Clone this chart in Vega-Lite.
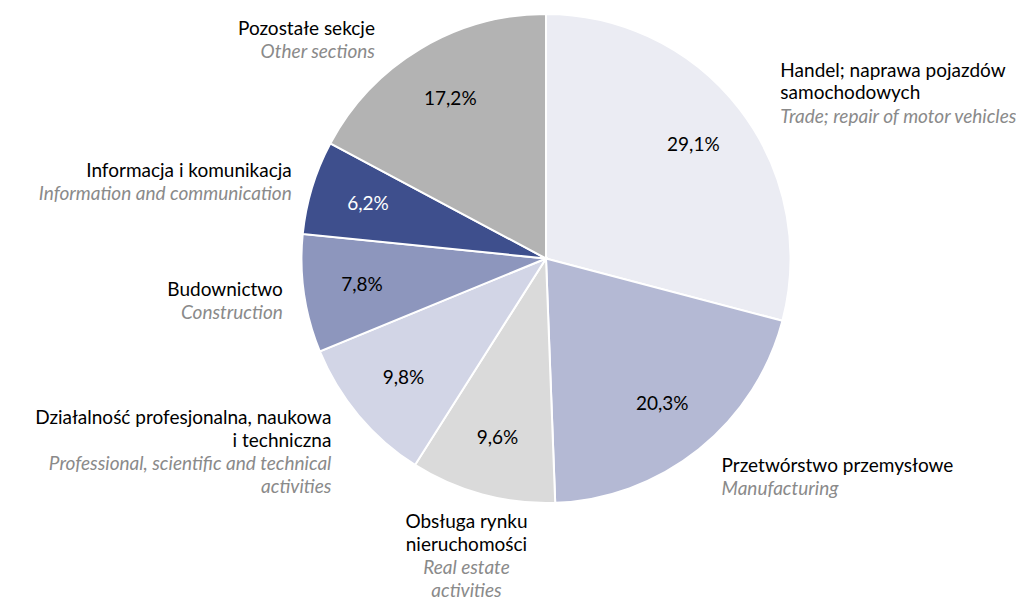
{
  "$schema": "https://vega.github.io/schema/vega-lite/v6.json",
  "width": 940,
  "height": 517,
  "autosize": {"type": "none"},
  "padding": {"left": 76, "top": 0, "right": 0, "bottom": 82},
  "background": "white",
  "config": {
    "view": {"stroke": null},
    "locale": {"number": {"decimal": ",", "thousands": " ", "grouping": [3], "currency": ["", " zł"]}},
    "text": {"font": "Lato", "fontSize": 19, "baseline": "alphabetic", "lineHeight": 23}
  },
  "data": {
    "values": [
      {"idx": 1, "key": "trade", "share": 0.291, "pl1": "Handel; naprawa pojazdów", "pl2": "\u00a0\u00a0samochodowych", "en": ["Trade; repair of motor vehicles"]},
      {"idx": 2, "key": "manuf", "share": 0.203, "pl1": "", "pl2": "Przetwórstwo przemysłowe", "en": ["Manufacturing"]},
      {"idx": 3, "key": "real", "share": 0.096, "pl1": "Obsługa rynku", "pl2": "nieruchomości", "en": ["Real estate", "activities"]},
      {"idx": 4, "key": "prof", "share": 0.098, "pl1": "Działalność profesjonalna, naukowa", "pl2": "i techniczna", "en": ["Professional, scientific and technical", "activities"]},
      {"idx": 5, "key": "constr", "share": 0.078, "pl1": "", "pl2": "Budownictwo", "en": ["Construction"]},
      {"idx": 6, "key": "info", "share": 0.062, "pl1": "", "pl2": "Informacja i komunikacja", "en": ["Information and communication"]},
      {"idx": 7, "key": "other", "share": 0.172, "pl1": "", "pl2": "Pozostałe sekcje", "en": ["Other sections"]}
    ]
  },
  "encoding": {
    "theta": {"field": "share", "type": "quantitative", "stack": true},
    "order": {"field": "idx", "type": "quantitative"}
  },
  "layer": [
    {
      "mark": {"type": "arc", "outerRadius": 244.5, "stroke": "white", "strokeWidth": 2},
      "encoding": {
        "color": {
          "field": "key", "type": "nominal", "legend": null,
          "scale": {
            "domain": ["trade", "manuf", "real", "prof", "constr", "info", "other"],
            "range": ["#ebecf3", "#b4b9d4", "#dadada", "#d2d5e6", "#8d96bd", "#3e4f8d", "#b3b3b3"]
          }
        }
      }
    },
    {
      "mark": {"type": "text", "radius": 186, "baseline": "middle"},
      "encoding": {
        "text": {"field": "share", "type": "quantitative", "format": ".1%"},
        "color": {"condition": {"test": "datum.key === 'info'", "value": "white"}, "value": "black"}
      }
    },

    {"mark": {"type": "text", "radius": 282, "align": "left", "dx": 11, "dy": -9, "color": "black"},
     "encoding": {"text": {"condition": {"test": "datum.key === 'trade'", "field": "pl1"}, "value": ""}}},
    {"mark": {"type": "text", "radius": 282, "align": "left", "dx": 11, "dy": 13, "color": "black"},
     "encoding": {"text": {"condition": {"test": "datum.key === 'trade'", "field": "pl2"}, "value": ""}}},
    {"mark": {"type": "text", "radius": 282, "align": "left", "dx": 11, "dy": 37, "color": "#8a8a8a", "fontStyle": "italic"},
     "encoding": {"text": {"condition": {"test": "datum.key === 'trade'", "field": "en"}, "value": ""}}},

    {"mark": {"type": "text", "radius": 276, "align": "left", "dx": 3, "dy": -2, "color": "black"},
     "encoding": {"text": {"condition": {"test": "datum.key === 'manuf'", "field": "pl2"}, "value": ""}}},
    {"mark": {"type": "text", "radius": 276, "align": "left", "dx": 3, "dy": 21, "color": "#8a8a8a", "fontStyle": "italic"},
     "encoding": {"text": {"condition": {"test": "datum.key === 'manuf'", "field": "en"}, "value": ""}}},

    {"mark": {"type": "text", "radius": 305, "align": "center", "dy": -25, "color": "black"},
     "encoding": {"text": {"condition": {"test": "datum.key === 'real'", "field": "pl1"}, "value": ""}}},
    {"mark": {"type": "text", "radius": 305, "align": "center", "dy": -2, "color": "black"},
     "encoding": {"text": {"condition": {"test": "datum.key === 'real'", "field": "pl2"}, "value": ""}}},
    {"mark": {"type": "text", "radius": 305, "align": "center", "dy": 21, "color": "#8a8a8a", "fontStyle": "italic"},
     "encoding": {"text": {"condition": {"test": "datum.key === 'real'", "field": "en"}, "value": ""}}},

    {"mark": {"type": "text", "radius": 280, "align": "right", "dy": -14, "color": "black"},
     "encoding": {"text": {"condition": {"test": "datum.key === 'prof'", "field": "pl1"}, "value": ""}}},
    {"mark": {"type": "text", "radius": 280, "align": "right", "dy": 9, "color": "black"},
     "encoding": {"text": {"condition": {"test": "datum.key === 'prof'", "field": "pl2"}, "value": ""}}},
    {"mark": {"type": "text", "radius": 280, "align": "right", "dy": 32, "color": "#8a8a8a", "fontStyle": "italic"},
     "encoding": {"text": {"condition": {"test": "datum.key === 'prof'", "field": "en"}, "value": ""}}},

    {"mark": {"type": "text", "radius": 272, "align": "right", "dx": 6, "dy": -2, "color": "black"},
     "encoding": {"text": {"condition": {"test": "datum.key === 'constr' || datum.key === 'info'", "field": "pl2"}, "value": ""}}},
    {"mark": {"type": "text", "radius": 272, "align": "right", "dx": 6, "dy": 21, "color": "#8a8a8a", "fontStyle": "italic"},
     "encoding": {"text": {"condition": {"test": "datum.key === 'constr' || datum.key === 'info'", "field": "en"}, "value": ""}}},

    {"mark": {"type": "text", "radius": 282, "align": "right", "dx": -26, "dy": 18, "color": "black"},
     "encoding": {"text": {"condition": {"test": "datum.key === 'other'", "field": "pl2"}, "value": ""}}},
    {"mark": {"type": "text", "radius": 282, "align": "right", "dx": -26, "dy": 41, "color": "#8a8a8a", "fontStyle": "italic"},
     "encoding": {"text": {"condition": {"test": "datum.key === 'other'", "field": "en"}, "value": ""}}}
  ]
}
